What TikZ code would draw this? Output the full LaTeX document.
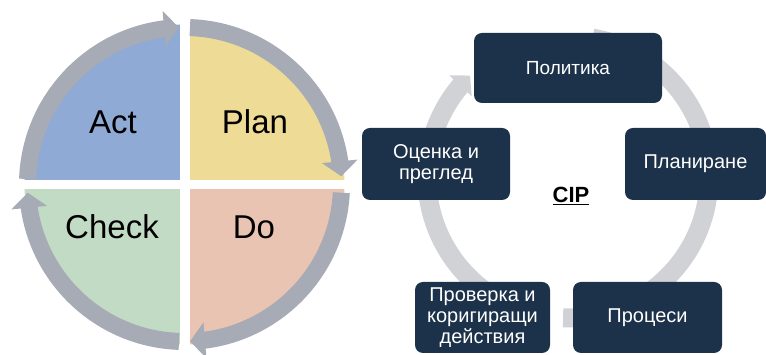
\documentclass[tikz,border=0pt]{standalone}
\usepackage{fontspec}
\setmainfont{Liberation Sans}
\usetikzlibrary{arrows.meta,bending}

\definecolor{actblue}{RGB}{143,170,212}
\definecolor{planyellow}{RGB}{238,219,150}
\definecolor{dosalmon}{RGB}{234,196,178}
\definecolor{checkgreen}{RGB}{194,219,196}
\definecolor{ringgray}{RGB}{166,171,181}
\definecolor{cipnavy}{RGB}{28,49,74}
\definecolor{cipring}{RGB}{208,210,214}

\tikzset{
  pdcaring/.style={draw=ringgray, line width=17pt, -{Triangle[width=35pt,length=15pt]}},
  pdcalabel/.style={font=\fontsize{33}{39}\selectfont, text=black},
  cipring/.style={draw=cipring, line width=19pt},
  cipbox/.style={fill=cipnavy, rounded corners=8pt, text=white, align=center, inner sep=0pt, font=\fontsize{20}{21}\selectfont},
}

\begin{document}
\begin{tikzpicture}[x=1pt,y=1pt]
				\useasboundingbox (0,0) rectangle (766,355);
				%Cercle PDCA
				\coordinate (pdca) at (184.5,170.5);
				%Quadrants
				\begin{scope}
					\clip (pdca) circle (160);
					\fill[actblue] (0,175) rectangle (179.5,355);
					\fill[planyellow] (190,175) rectangle (370,355);
					\fill[dosalmon] (190,0) rectangle (370,166);
					\fill[checkgreen] (0,0) rectangle (179.5,166);
				\end{scope}
				%Fletxes
				\draw[pdcaring] ([shift={(178:157)}]pdca) arc[start angle=178, end angle=92, radius=157];
				\draw[pdcaring] ([shift={(88:157)}]pdca) arc[start angle=88, end angle=3, radius=157];
				\draw[pdcaring] ([shift={(-3:157)}]pdca) arc[start angle=-3, end angle=-88, radius=157];
				\draw[pdcaring] ([shift={(-92:157)}]pdca) arc[start angle=-92, end angle=-177, radius=157];
				%Textos
				\node[pdcalabel] (act) at (113,233) {Act};
				\node[pdcalabel] (plan) at (255,233) {Plan};
				\node[pdcalabel] (check) at (112,128) {Check};
				\node[pdcalabel] (do) at (254,128) {Do};
				%Cicle CIP
				\coordinate (cipc) at (568,178);
				\draw[cipring] ([shift={(80:141)}]cipc) arc[start angle=80, end angle=-92, radius=141];
				\draw[cipring, -{Triangle[width=30pt,length=14pt]}] ([shift={(260:141)}]cipc) arc[start angle=260, end angle=134, radius=141];
				%Caixes
				\node[cipbox, minimum width=188pt, minimum height=70pt, font=\fontsize{19}{21}\selectfont] (politika) at (568,287) {Политика};
				\node[cipbox, minimum width=141pt, minimum height=72pt] (planirane) at (695.5,191) {Планиране};
				\node[cipbox, minimum width=148pt, minimum height=72pt] (ocenka) at (436,191) {Оценка и\\преглед};
				\node[cipbox, minimum width=135pt, minimum height=71pt] (proverka) at (482.5,37.5) {Проверка и\\коригиращи\\действия};
				\node[cipbox, minimum width=149pt, minimum height=71pt] (procesi) at (647.5,37.5) {Процеси};
				\node[font=\fontsize{22}{26}\selectfont\bfseries] (cip) at (571,159) {\underline{CIP}};
			\end{tikzpicture}
\end{document}
